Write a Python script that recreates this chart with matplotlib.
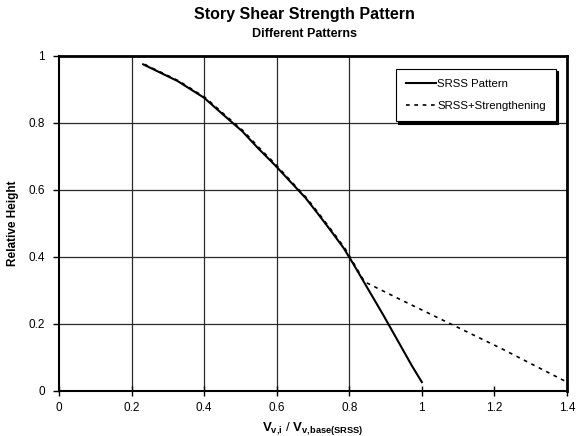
import matplotlib
matplotlib.use("Agg")
from matplotlib import pyplot as plt

plt.rcParams["font.family"] = ["Liberation Sans", "DejaVu Sans"]
plt.rcParams["mathtext.fontset"] = "custom"
plt.rcParams["mathtext.rm"] = "Liberation Sans"
plt.rcParams["mathtext.bf"] = "Liberation Sans:bold"

# relative story heights (20 stories, mid-height of each)
rel_height = [0.975, 0.925, 0.875, 0.825, 0.775, 0.725, 0.675, 0.625, 0.575, 0.525,
              0.475, 0.425, 0.375, 0.325, 0.275, 0.225, 0.175, 0.125, 0.075, 0.025]

# normalised story shear strength, SRSS distribution
srss = [0.232, 0.327, 0.400, 0.452, 0.505, 0.548, 0.594, 0.637, 0.680, 0.716,
        0.751, 0.785, 0.813, 0.840, 0.867, 0.894, 0.920, 0.946, 0.972, 1.000]

# SRSS with strengthening of the lower stories
srss_strengthened = [0.236, 0.331, 0.404, 0.456, 0.509, 0.552, 0.598, 0.640, 0.683, 0.719,
                     0.754, 0.788, 0.815, 0.842, 0.935, 1.030, 1.125, 1.220, 1.310, 1.400]

x_ticks = [0, 0.2, 0.4, 0.6, 0.8, 1, 1.2, 1.4]
y_ticks = [0, 0.2, 0.4, 0.6, 0.8, 1]
x_tick_labels = ["0", "0.2", "0.4", "0.6", "0.8", "1", "1.2", "1.4"]
y_tick_labels = ["0", "0.2", "0.4", "0.6", "0.8", "1"]

W, H = 577, 436
fig = plt.figure(figsize=(W / 100, H / 100), dpi=100)
ax = fig.add_axes([59 / W, (H - 390.5) / H, 508 / W, 334.5 / H])

grid_color = "#2a2a2a"
for yv in y_ticks[1:-1]:
    ax.axhline(yv, color=grid_color, lw=0.9, zorder=1)
for xv in x_ticks[1:5]:
    ax.axvline(xv, color=grid_color, lw=0.9, zorder=1)

ax.plot(srss, rel_height, color="black", lw=1.5, label="SRSS Pattern", zorder=3)
ax.plot(srss_strengthened, rel_height, color="black", lw=1.2, dashes=(2.2, 2.8),
        label="SRSS+Strengthening", zorder=3)

ax.set_xlim(0, 1.4)
ax.set_ylim(0, 1)
ax.set_xticks(x_ticks, x_tick_labels)
ax.set_yticks(y_ticks, y_tick_labels)
ax.tick_params(axis="x", direction="inout", length=7, width=1, labelsize=8.5, pad=5)
ax.tick_params(axis="y", direction="out", length=4, width=1, labelsize=8.5, pad=6)

ax.spines["left"].set_linewidth(1.5)
ax.spines["bottom"].set_linewidth(1.5)
ax.spines["top"].set_linewidth(2)
ax.spines["right"].set_linewidth(2)

ax.set_xlabel(r"$\mathbf{V}_{\mathbf{v{,}i}}$ / $\mathbf{V}_{\mathbf{v{,}base(SRSS)}}$",
              fontsize=9.5, labelpad=4)
ax.set_ylabel("Relative Height", fontsize=8.5, fontweight="bold", labelpad=7)

leg = ax.legend(loc="upper right", bbox_to_anchor=(556 / W, (H - 69) / H),
                bbox_transform=fig.transFigure, fontsize=8.2, handlelength=2.6,
                handletextpad=0.1, labelspacing=1.05, borderpad=0.9,
                borderaxespad=0, fancybox=False, framealpha=1,
                shadow={"color": "black", "alpha": 1, "ox": 1.5, "oy": -1.5})
leg.get_frame().set_edgecolor("black")
leg.get_frame().set_linewidth(0.8)

fig.text(304 / W, 1 - 15 / H, "Story Shear Strength Pattern", ha="center", va="center",
         fontsize=11.5, fontweight="bold")
fig.text(305 / W, 1 - 34 / H, "Different Patterns", ha="center", va="center",
         fontsize=9, fontweight="bold")

fig.savefig("out.png", dpi=100)
